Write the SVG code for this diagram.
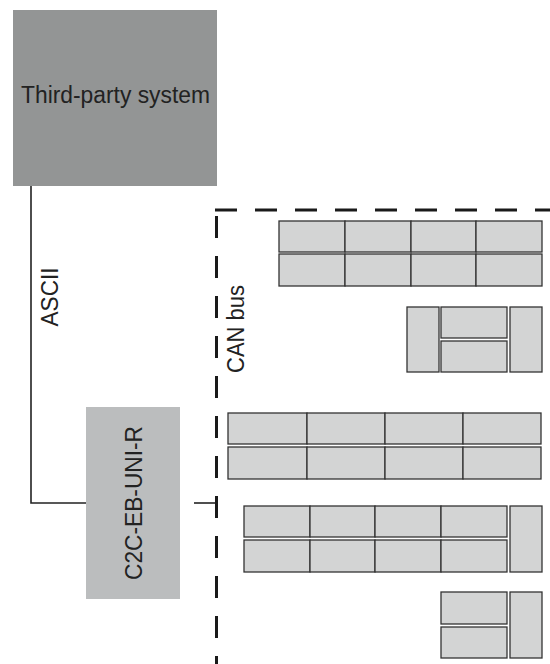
<svg xmlns="http://www.w3.org/2000/svg" width="550" height="664" viewBox="0 0 550 664">
<style>
.lbl{font-family:"Liberation Sans",Arial,sans-serif;font-size:23px;fill:#222;}
.cell{fill:#d3d4d4;stroke:#333;stroke-width:1.3;}
.wire{fill:none;stroke:#222;stroke-width:1.6;}
.bus{fill:none;stroke:#1a1a1a;stroke-width:3;stroke-dasharray:22 18;}
</style>
<rect width="550" height="664" fill="#fff"/>
<g id="connectors">
<polyline class="wire" points="31,186 31,503 86,503"/>
<line class="wire" x1="194" y1="503" x2="216" y2="503"/>
<line class="bus" x1="215" y1="210" x2="550" y2="210"/>
<line class="bus" x1="216.5" y1="216" x2="216.5" y2="664"/>
<text class="lbl" transform="translate(58,297) rotate(-90)" text-anchor="middle" textLength="59" lengthAdjust="spacingAndGlyphs">ASCII</text>
<text class="lbl" transform="translate(244,329) rotate(-90)" text-anchor="middle" textLength="88" lengthAdjust="spacingAndGlyphs">CAN bus</text>
</g>
<g id="third-party">
<rect x="13" y="10" width="204" height="176" fill="#939595"/>
<text class="lbl" x="115.5" y="103" text-anchor="middle" textLength="189" lengthAdjust="spacingAndGlyphs">Third-party system</text>
</g>
<g id="c2c">
<rect x="86" y="407" width="94" height="192" fill="#bbbdbe"/>
<text class="lbl" transform="translate(142,503) rotate(-90)" text-anchor="middle" textLength="154" lengthAdjust="spacingAndGlyphs">C2C-EB-UNI-R</text>
</g>
<g id="module-group-1">
<rect class="cell" x="279" y="221" width="66" height="31"/>
<rect class="cell" x="345" y="221" width="66" height="31"/>
<rect class="cell" x="411" y="221" width="65" height="31"/>
<rect class="cell" x="476" y="221" width="66" height="31"/>
<rect class="cell" x="279" y="254" width="66" height="32"/>
<rect class="cell" x="345" y="254" width="66" height="32"/>
<rect class="cell" x="411" y="254" width="65" height="32"/>
<rect class="cell" x="476" y="254" width="66" height="32"/>
</g>
<g id="module-group-2">
<rect class="cell" x="407" y="307" width="32" height="65"/>
<rect class="cell" x="441" y="307" width="66" height="31"/>
<rect class="cell" x="441" y="341" width="66" height="31"/>
<rect class="cell" x="510" y="307" width="32" height="65"/>
</g>
<g id="module-group-3">
<rect class="cell" x="228" y="413" width="79" height="31"/>
<rect class="cell" x="307" y="413" width="78" height="31"/>
<rect class="cell" x="385" y="413" width="78" height="31"/>
<rect class="cell" x="463" y="413" width="78" height="31"/>
<rect class="cell" x="228" y="447" width="79" height="32"/>
<rect class="cell" x="307" y="447" width="78" height="32"/>
<rect class="cell" x="385" y="447" width="78" height="32"/>
<rect class="cell" x="463" y="447" width="78" height="32"/>
</g>
<g id="module-group-4">
<rect class="cell" x="244" y="506" width="66" height="31"/>
<rect class="cell" x="310" y="506" width="65" height="31"/>
<rect class="cell" x="375" y="506" width="66" height="31"/>
<rect class="cell" x="441" y="506" width="66" height="31"/>
<rect class="cell" x="244" y="540" width="66" height="32"/>
<rect class="cell" x="310" y="540" width="65" height="32"/>
<rect class="cell" x="375" y="540" width="66" height="32"/>
<rect class="cell" x="441" y="540" width="66" height="32"/>
<rect class="cell" x="510" y="506" width="32" height="66"/>
</g>
<g id="module-group-5">
<rect class="cell" x="441" y="592" width="66" height="32"/>
<rect class="cell" x="441" y="627" width="66" height="31"/>
<rect class="cell" x="510" y="592" width="32" height="66"/>
</g>
</svg>
